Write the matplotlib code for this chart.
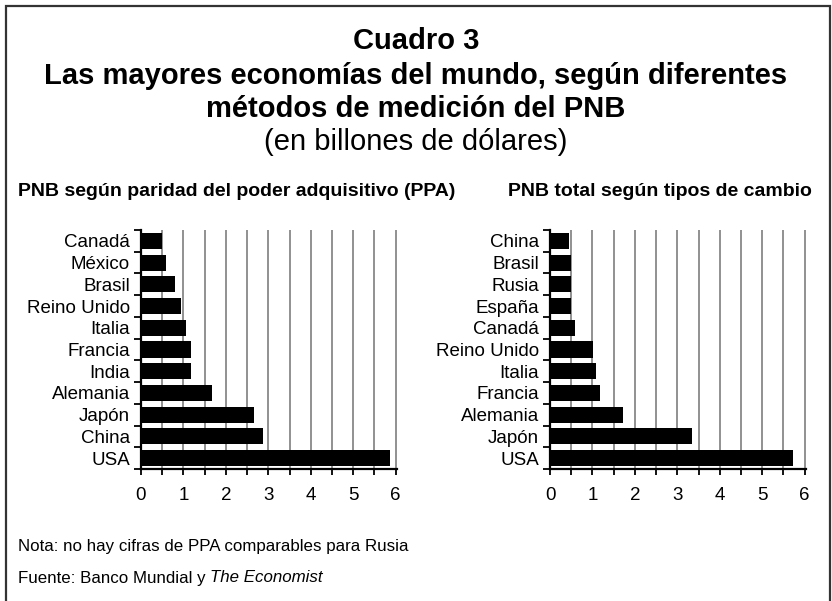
import matplotlib
matplotlib.use('Agg')
import matplotlib.pyplot as plt
from matplotlib.patches import Rectangle

# datos (billones de dólares)
ppa_paises = ['Canadá', 'México', 'Brasil', 'Reino Unido', 'Italia', 'Francia',
              'India', 'Alemania', 'Japón', 'China', 'USA']
ppa_valores = [0.50, 0.59, 0.80, 0.95, 1.07, 1.17, 1.17, 1.68, 2.66, 2.87, 5.86]

tc_paises = ['China', 'Brasil', 'Rusia', 'España', 'Canadá', 'Reino Unido',
             'Italia', 'Francia', 'Alemania', 'Japón', 'USA']
tc_valores = [0.45, 0.49, 0.49, 0.49, 0.58, 1.01, 1.09, 1.17, 1.73, 3.35, 5.72]

x_ticks = [0, 0.5, 1, 1.5, 2, 2.5, 3, 3.5, 4, 4.5, 5, 5.5, 6]
x_labels = ['0', '', '1', '', '2', '', '3', '', '4', '', '5', '', '6']

plt.rcParams['font.family'] = ['Liberation Sans', 'DejaVu Sans']

W, H = 832, 601
fig = plt.figure(figsize=(W / 100, H / 100), dpi=100)

# marco
fig.patches.append(Rectangle((5.5 / W, -0.05), (830 - 5.5) / W, 1.05 - 6.5 / H,
                             transform=fig.transFigure, fill=False,
                             edgecolor='#333333', linewidth=1.6))

def panel(rect, paises, valores):
    ax = fig.add_axes(rect)
    pos = list(range(len(paises)))[::-1]
    for xv in x_ticks[1:]:
        ax.axvline(xv, color='#888888', linewidth=1.3, zorder=0)
    ax.barh(pos, valores, height=0.74, color='black', zorder=2)
    ax.set_xlim(0, 6.03)
    ax.set_ylim(-0.5, len(paises) - 0.5)
    ax.set_xticks(x_ticks)
    ax.set_xticklabels(x_labels, fontsize=13.5)
    ax.set_yticks(pos)
    ax.set_yticklabels(paises, fontsize=13.5)
    ax.set_yticks([p - 0.5 for p in range(len(paises) + 1)], minor=True)
    ax.tick_params(axis='y', which='major', length=0, pad=8)
    ax.tick_params(axis='y', which='minor', length=5, width=1.3, direction='out')
    ax.tick_params(axis='x', which='major', length=4, width=1.3, direction='out', pad=9)
    for s in ['top', 'right']:
        ax.spines[s].set_visible(False)
    for s in ['left', 'bottom']:
        ax.spines[s].set_linewidth(1.6)
        ax.spines[s].set_zorder(3)
    return ax

panel([141 / W, 1 - 469 / H, 256 / W, 239 / H], ppa_paises, ppa_valores)
panel([550 / W, 1 - 469 / H, 256 / W, 239 / H], tc_paises, tc_valores)

fig.text(0.5, 1 - 41 / H, 'Cuadro 3', ha='center', va='center', fontsize=21, fontweight='bold')
fig.text(0.5, 1 - 76 / H, 'Las mayores economías del mundo, según diferentes',
         ha='center', va='center', fontsize=21, fontweight='bold')
fig.text(0.5, 1 - 109 / H, 'métodos de medición del PNB', ha='center', va='center',
         fontsize=21, fontweight='bold')
fig.text(0.5, 1 - 142 / H, '(en billones de dólares)', ha='center', va='center', fontsize=21)

fig.text(18 / W, 1 - 192 / H, 'PNB según paridad del poder adquisitivo (PPA)',
         ha='left', va='center', fontsize=14, fontweight='bold')
fig.text(812 / W, 1 - 192 / H, 'PNB total según tipos de cambio',
         ha='right', va='center', fontsize=14, fontweight='bold')

fig.text(18 / W, 1 - 547 / H, 'Nota: no hay cifras de PPA comparables para Rusia',
         ha='left', va='center', fontsize=12.2)
fuente = fig.text(18 / W, 1 - 578 / H, 'Fuente: Banco Mundial y ', ha='left', va='center',
                  fontsize=12.2)
fig.canvas.draw()
bb = fuente.get_window_extent()
fig.text(bb.x1 / W, 1 - 578 / H, 'The Economist', ha='left', va='center',
         fontsize=12.2, style='italic')

fig.savefig('out.png', dpi=100)
